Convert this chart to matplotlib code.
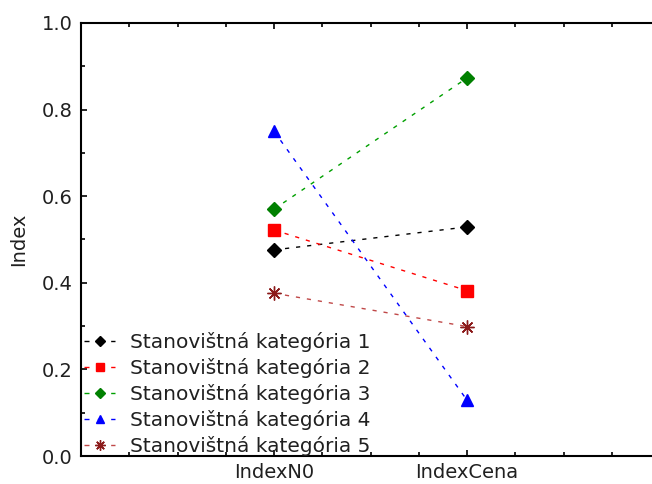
import matplotlib
matplotlib.use("Agg")
import matplotlib.pyplot as plt
from matplotlib.ticker import MultipleLocator, FixedLocator

# data
indexes = ["IndexN0", "IndexCena"]
kat1 = [0.476, 0.529]
kat2 = [0.522, 0.382]
kat3 = [0.570, 0.873]
kat4 = [0.750, 0.129]
kat5 = [0.376, 0.299]
labels = ["Stanovištná kategória 1", "Stanovištná kategória 2",
          "Stanovištná kategória 3", "Stanovištná kategória 4",
          "Stanovištná kategória 5"]

plt.rcParams['font.family'] = ['DejaVu Sans']
txt = '#202020'

fig = plt.figure(figsize=(6.52, 4.84), dpi=100)
ax = fig.add_axes([81 / 652, 28 / 484, 579 / 652, 433 / 484])

x = [1, 2]
styles = [
    (kat1, 'black', 'black', 'D', 7),
    (kat2, 'red', 'red', 's', 8),
    (kat3, '#00a000', 'green', 'D', 7),
    (kat4, 'blue', 'blue', '^', 8),
    (kat5, '#c04848', '#8b1a1a', (8, 2, 0), 10),
]
for (vals, lc, mc, mk, ms), lab in zip(styles, labels):
    ax.plot(x, vals, color=lc, lw=1, dashes=(3, 5), marker=mk,
            markersize=ms, markerfacecolor=mc, markeredgecolor=mc,
            label=lab)

ax.set_xlim(0, 3)
ax.set_ylim(0, 1)
ax.xaxis.set_major_locator(FixedLocator(x))
ax.set_xticklabels(indexes)
ax.xaxis.set_minor_locator(MultipleLocator(0.25))
ax.yaxis.set_major_locator(MultipleLocator(0.2))
ax.yaxis.set_minor_locator(MultipleLocator(0.1))
ax.yaxis.set_major_formatter(plt.FormatStrFormatter('%.1f'))

ax.tick_params(which='both', direction='in', top=True, right=False,
               labelsize=14, color='black', labelcolor=txt, width=1.2)
ax.tick_params(which='major', length=4)
ax.tick_params(which='minor', length=3)
ax.tick_params(axis='y', pad=6)
ax.tick_params(axis='x', pad=5)
for s in ax.spines.values():
    s.set_linewidth(1.5)

ax.set_ylabel("Index", fontsize=14, color=txt)
ax.yaxis.set_label_coords(-0.0915, 0.5)

leg = ax.legend(loc='lower left', bbox_to_anchor=(0.005, 0.0),
                frameon=False, fontsize=14.5, handlelength=1.55,
                handletextpad=0.75, labelspacing=0.3, borderpad=0,
                borderaxespad=0, markerscale=0.75)
for t in leg.get_texts():
    t.set_color(txt)
for h in leg.legend_handles:
    h.set_dashes((3.6, 6.0))

fig.savefig("out.png", dpi=100)
